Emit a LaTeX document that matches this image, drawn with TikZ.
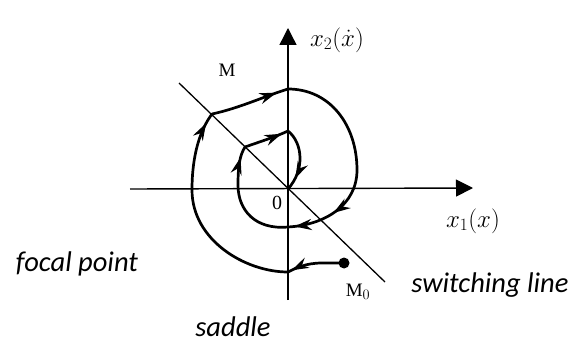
\documentclass[tikz,border=0pt]{standalone}
\usepackage{fontspec}
\setmainfont{Liberation Serif}
\newfontfamily\labfont{Carlito}
\usetikzlibrary{arrows.meta,decorations.markings}
\begin{document}
\begin{tikzpicture}[x=1pt,y=-1pt,
  traj/.style={line width=2.7pt,line cap=round},
  axisline/.style={line width=1.4pt,-{Triangle[length=17pt,width=17pt]}},
  swline/.style={line width=1.3pt},
  midarrow/.style={postaction={decorate},decoration={markings,mark=at position #1 with {\arrow{Stealth[length=17pt,width=11pt]}}}},
  twoarrows/.style 2 args={postaction={decorate},decoration={markings,
     mark=at position #1 with {\arrow{Stealth[length=17pt,width=11pt]}},
     mark=at position #2 with {\arrow{Stealth[length=17pt,width=11pt]}}}},
  caption/.style={font=\labfont\itshape\fontsize{28.5}{33}\selectfont,inner sep=0pt},
  mathlab/.style={font=\fontsize{23}{27}\selectfont,inner sep=0pt},
  ptlab/.style={font=\fontsize{19}{22}\selectfont,inner sep=0pt}
]
\useasboundingbox (0,0) rectangle (573,342);
% points
\coordinate (O) at (288,189);
\coordinate (T) at (288,89);
\coordinate (M) at (212,114);
\coordinate (Lo) at (192,190);
\coordinate (B) at (288,272);
\coordinate (R) at (357,170);
\coordinate (P) at (288,227);
\coordinate (Li) at (238,185);
\coordinate (S) at (245,147);
\coordinate (U) at (288,131);
\coordinate (M0) at (344,263);
\coordinate (xs) at (130,189);
\coordinate (xe) at (473,188);
\coordinate (ys) at (288,300);
\coordinate (ye) at (288,28);
\coordinate (sw1) at (179,83);
\coordinate (sw2) at (385,282);
% axes and switching line
\draw[axisline] (xs) -- (xe);
\draw[axisline] (ys) -- (ye);
\draw[swline] (sw1) -- (sw2);
% trajectory
\draw[traj,midarrow=0.93] (M0) -- (322,263) .. controls (306,263) and (296,268) .. (B);
\draw[traj,midarrow=0.95] (B) .. controls (245,272) and (192,240) .. (Lo) .. controls (192,155) and (200,130) .. (M);
\draw[traj,midarrow=0.85] (M) .. controls (240,108) and (265,96) .. (T);
\draw[traj,twoarrows={0.78}{0.97}] (T) .. controls (330,89) and (357,125) .. (R) .. controls (357,205) and (325,225) .. (P);
\draw[traj,midarrow=0.9] (P) .. controls (255,230) and (238,210) .. (Li) .. controls (238,165) and (240,155) .. (S);
\draw[traj,midarrow=0.85] (S) .. controls (262,141) and (275,137) .. (U);
\draw[traj,midarrow=0.8] (U) .. controls (303,143) and (305,170) .. (O);
\fill (M0) circle (5.5pt);
% labels
\node[mathlab] (x2) at (337,40) {$x_2(\dot{x})$};
\node[mathlab] (x1) at (473,221) {$x_1(x)$};
\node[ptlab] (Mlab) at (227,70) {M};
\node[ptlab] (M0lab) at (358,292) {M$_0$};
\node[ptlab,font=\fontsize{20}{22}\selectfont] (zero) at (277,203) {0};
\node[caption] (fp) at (77,264) {focal point};
\node[caption] (sl) at (490,285) {switching line};
\node[caption,anchor=base] (sd) at (233,336) {saddle};
\end{tikzpicture}
\end{document}
